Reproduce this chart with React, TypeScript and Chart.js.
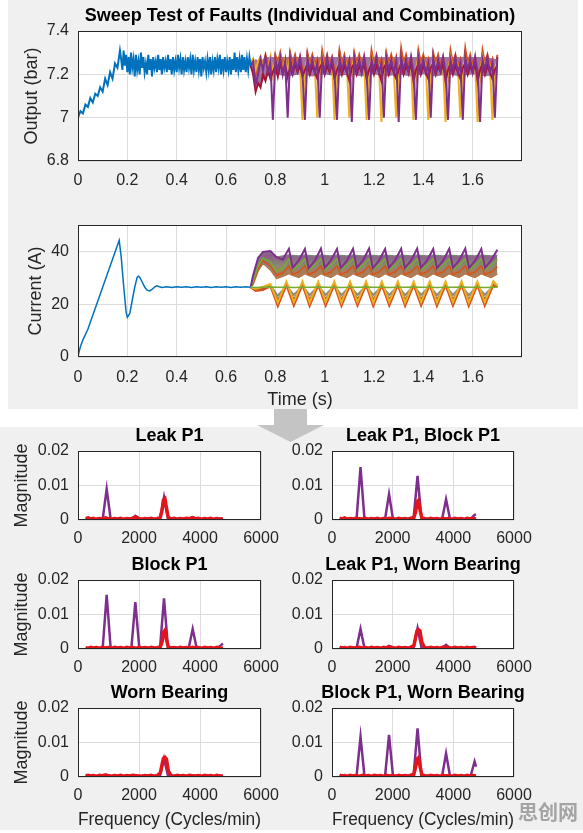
import React, { useEffect, useRef } from "react";
import { Chart, registerables } from "chart.js";

Chart.register(...registerables);

const FONT = '"Liberation Sans", Arial, Helvetica, sans-serif';
const TICK_COLOR = "#262626";
const GRID_COLOR = "#dcdcdc";

const C_BLUE = "#0072BD";
const C_ORANGE = "#D95319";
const C_YELLOW = "#EDB120";
const C_PURPLE = "#7E2F8E";
const C_GREEN = "#77AC30";
const C_DRED = "#A2142F";
const C_RED = "#E3151B";

// ---------- Output (bar) ----------
const T_START = [
  0, 0.01, 0.02, 0.03, 0.04, 0.05, 0.06, 0.07, 0.08, 0.09, 0.1, 0.11, 0.12, 0.13, 0.14, 0.15, 0.16, 0.17,
  0.175, 0.18, 0.185, 0.19, 0.195, 0.2, 0.205, 0.21, 0.215, 0.22, 0.225, 0.23, 0.235, 0.24, 0.245, 0.25, 0.255, 0.26,
  0.265, 0.27, 0.275, 0.28, 0.285, 0.29, 0.295, 0.3, 0.305, 0.31, 0.315, 0.32, 0.325, 0.33, 0.335, 0.34, 0.345, 0.35,
  0.355, 0.36, 0.365, 0.37, 0.375, 0.38, 0.385, 0.39, 0.395, 0.4, 0.405, 0.41, 0.415, 0.42, 0.425, 0.43, 0.435, 0.44,
  0.445, 0.45, 0.455, 0.46, 0.465, 0.47, 0.475, 0.48, 0.485, 0.49, 0.495, 0.5, 0.505, 0.51, 0.515, 0.52, 0.525, 0.53,
  0.535, 0.54, 0.545, 0.55, 0.555, 0.56, 0.565, 0.57, 0.575, 0.58, 0.585, 0.59, 0.595, 0.6, 0.605, 0.61, 0.615, 0.62,
  0.625, 0.63, 0.635, 0.64, 0.645, 0.65, 0.655, 0.66, 0.665, 0.67, 0.675, 0.68, 0.685, 0.69, 0.695, 0.7,
];
const OUT_BLUE = [
  7.0, 7.03, 7.02, 7.06, 7.05, 7.09, 7.07, 7.11, 7.1, 7.14, 7.12, 7.18, 7.15, 7.21, 7.18, 7.25, 7.23, 7.31,
  7.27, 7.22, 7.31, 7.24, 7.29, 7.21, 7.28, 7.2, 7.3, 7.23,
  7.27, 7.19, 7.29, 7.22, 7.26, 7.2, 7.3, 7.23, 7.28, 7.21,
  7.25, 7.2, 7.29, 7.22, 7.27, 7.19, 7.28, 7.23, 7.26, 7.21,
  7.29, 7.22, 7.27, 7.2, 7.28, 7.23, 7.26, 7.21, 7.29, 7.22,
  7.27, 7.2, 7.28, 7.22, 7.26, 7.21, 7.29, 7.23, 7.27, 7.2,
  7.28, 7.22, 7.26, 7.21, 7.28, 7.23, 7.27, 7.2, 7.29, 7.22,
  7.26, 7.21, 7.28, 7.22, 7.27, 7.19, 7.28, 7.23, 7.26, 7.21,
  7.27, 7.22, 7.28, 7.2, 7.26, 7.22, 7.28, 7.21, 7.27, 7.23,
  7.29, 7.2, 7.27, 7.22, 7.28, 7.21, 7.26, 7.22, 7.28, 7.2,
  7.27, 7.22, 7.3, 7.21, 7.28, 7.22, 7.27, 7.21, 7.29, 7.22,
  7.28, 7.21, 7.27, 7.22, 7.28, 7.24,
];
const T_FAULT = [
  0.7, 0.71, 0.72, 0.73, 0.74, 0.75, 0.76, 0.77, 0.78, 0.79, 0.8, 0.81, 0.82, 0.83, 0.84, 0.85, 0.86, 0.87, 0.88, 0.89,
  0.9, 0.91, 0.92, 0.93, 0.94, 0.95, 0.96, 0.97, 0.98, 0.99, 1.0, 1.01, 1.02, 1.03, 1.04, 1.05, 1.06, 1.07, 1.08, 1.09,
  1.1, 1.11, 1.12, 1.13, 1.14, 1.15, 1.16, 1.17, 1.18, 1.19, 1.2, 1.21, 1.22, 1.23, 1.24, 1.25, 1.26, 1.27, 1.28, 1.29,
  1.3, 1.31, 1.32, 1.33, 1.34, 1.35, 1.36, 1.37, 1.38, 1.39, 1.4, 1.41, 1.42, 1.43, 1.44, 1.45, 1.46, 1.47, 1.48, 1.49,
  1.5, 1.51, 1.52, 1.53, 1.54, 1.55, 1.56, 1.57, 1.58, 1.59, 1.6, 1.61, 1.62, 1.63, 1.64, 1.65, 1.66, 1.67, 1.68, 1.69,
  1.7,
];
const OUT_PURPLE = [
  7.24, 7.26, 7.15, 7.2, 7.27, 7.22, 7.28, 7.21, 7.26, 6.99, 7.27, 7.22, 7.28, 7.2, 7.26, 7.0, 7.28, 7.21, 7.27, 7.22,
  7.28, 7.2, 6.99, 7.28, 7.22, 7.27, 7.21, 7.25, 7.0, 7.27, 7.21, 7.28, 7.22, 7.27, 7.2, 6.99, 7.28, 7.22, 7.27, 7.21,
  7.26, 6.98, 7.28, 7.22, 7.27, 7.21, 7.28, 7.2, 6.99, 7.27, 7.22, 7.28, 7.21, 7.25, 7.0, 7.28, 7.22, 7.27, 7.21, 7.26,
  6.98, 7.28, 7.22, 7.27, 7.21, 7.28, 7.2, 6.99, 7.28, 7.22, 7.27, 7.21, 7.25, 7.0, 7.28, 7.21, 7.27, 7.22, 7.28, 7.2,
  6.99, 7.27, 7.22, 7.28, 7.21, 7.25, 6.99, 7.28, 7.22, 7.27, 7.21, 7.28, 7.2, 6.98, 7.27, 7.22, 7.28, 7.21, 7.25, 7.0,
  7.28,
];
const OUT_YELLOW = [
  7.25, 7.27, 7.22, 7.26, 7.28, 7.23, 7.27, 7.22, 7.28, 7.2, 7.27, 7.23, 7.28, 7.22, 7.27, 7.21, 7.28, 7.22, 7.27, 7.23,
  7.24, 6.99, 7.22, 7.28, 7.23, 7.27, 7.24, 7.0, 7.23, 7.28, 7.22, 7.27, 7.23, 7.26, 6.99, 7.22, 7.28, 7.23, 7.27, 7.24,
  7.0, 7.22, 7.28, 7.23, 7.27, 7.22, 7.25, 6.99, 7.21, 7.28, 7.23, 7.27, 7.24, 6.98, 7.22, 7.28, 7.23, 7.27, 7.22, 7.0,
  7.21, 7.28, 7.23, 7.27, 7.22, 7.25, 6.99, 7.22, 7.28, 7.23, 7.27, 7.24, 6.99, 7.22, 7.28, 7.23, 7.27, 7.22, 7.25, 6.98,
  7.21, 7.28, 7.23, 7.27, 7.24, 7.0, 7.22, 7.28, 7.23, 7.27, 7.22, 7.25, 6.98, 7.21, 7.28, 7.23, 7.27, 7.24, 6.99, 7.22,
  7.27,
];
const OUT_ORANGE = [
  7.25, 7.27, 7.2, 7.25, 7.28, 7.24, 7.29, 7.25, 7.27, 7.2, 7.29, 7.25, 7.3, 7.24, 7.27, 7.19, 7.3, 7.25, 7.29, 7.24,
  7.28, 7.22, 7.18, 7.3, 7.25, 7.29, 7.24, 7.27, 7.19, 7.31, 7.25, 7.29, 7.24, 7.28, 7.22, 7.18, 7.31, 7.25, 7.29, 7.24,
  7.27, 7.19, 7.3, 7.25, 7.29, 7.24, 7.28, 7.22, 7.18, 7.31, 7.25, 7.29, 7.24, 7.27, 7.19, 7.3, 7.25, 7.29, 7.24, 7.28,
  7.18, 7.32, 7.25, 7.29, 7.24, 7.28, 7.22, 7.18, 7.31, 7.25, 7.29, 7.24, 7.27, 7.19, 7.3, 7.25, 7.29, 7.24, 7.28, 7.22,
  7.18, 7.31, 7.25, 7.29, 7.24, 7.27, 7.19, 7.32, 7.25, 7.29, 7.24, 7.28, 7.22, 7.18, 7.31, 7.25, 7.29, 7.24, 7.27, 7.19,
  7.29,
];
const OUT_DRED = [
  7.24, 7.2, 7.12, 7.16, 7.14, 7.2, 7.17, 7.22, 7.18, 7.21, 7.24, 7.19, 7.25, 7.21, 7.24, 7.19, 7.23, 7.2, 7.25, 7.21,
  7.24, 7.19, 7.22, 7.25, 7.2, 7.24, 7.21, 7.18, 7.23, 7.25, 7.2, 7.24, 7.21, 7.25, 7.18, 7.22, 7.25, 7.2, 7.24, 7.21,
  7.17, 7.23, 7.25, 7.2, 7.24, 7.21, 7.25, 7.18, 7.22, 7.25, 7.2, 7.24, 7.21, 7.17, 7.23, 7.25, 7.2, 7.24, 7.21, 7.18,
  7.22, 7.25, 7.2, 7.24, 7.21, 7.25, 7.17, 7.22, 7.25, 7.2, 7.24, 7.21, 7.18, 7.23, 7.25, 7.2, 7.24, 7.21, 7.25, 7.17,
  7.22, 7.25, 7.2, 7.24, 7.21, 7.18, 7.23, 7.25, 7.2, 7.24, 7.21, 7.25, 7.17, 7.22, 7.25, 7.2, 7.24, 7.21, 7.18, 7.22,
  7.24,
];
// envelope of the dense bundle of fault traces
const T_ENV = [
  0.7, 0.72, 0.74, 0.76, 0.8, 0.85, 0.9, 0.95, 1.0, 1.05, 1.1, 1.15, 1.2, 1.25, 1.3, 1.35, 1.4, 1.45, 1.5, 1.55, 1.6,
  1.65, 1.7,
];
const ENV_TOP = [
  7.25, 7.27, 7.26, 7.28, 7.28, 7.28, 7.28, 7.28, 7.28, 7.28, 7.28, 7.28, 7.28, 7.28, 7.28, 7.28, 7.28, 7.28, 7.28,
  7.28, 7.28, 7.28, 7.27,
];
const ENV_BOTTOM = [
  7.23, 7.17, 7.15, 7.19, 7.2, 7.19, 7.2, 7.19, 7.2, 7.19, 7.2, 7.19, 7.2, 7.19, 7.2, 7.19, 7.2, 7.19, 7.2, 7.19, 7.2,
  7.19, 7.2,
];

// ---------- Current (A) ----------
const T_CUR = [
  0, 0.005, 0.01, 0.02, 0.04, 0.06, 0.08, 0.1, 0.12, 0.14, 0.16, 0.167, 0.175, 0.185, 0.195, 0.2, 0.21, 0.22, 0.23, 0.24,
  0.245, 0.25, 0.26, 0.27, 0.28, 0.29, 0.3, 0.31, 0.32, 0.33, 0.34, 0.36, 0.38, 0.4, 0.42, 0.44, 0.46, 0.48, 0.5, 0.52,
  0.54, 0.56, 0.58, 0.6, 0.62, 0.64, 0.66, 0.68, 0.7,
];
const CUR_BLUE = [
  0, 2.2, 4.0, 6.5, 10.5, 15.8, 21.1, 26.4, 31.7, 37.0, 42.3, 44.2, 38.0, 27.0, 17.0, 15.0, 16.5, 21.5, 26.5, 30.2,
  30.6, 30.2, 28.5, 26.5, 25.3, 25.0, 25.6, 26.5, 27.0, 26.6, 26.3, 26.6, 26.3, 26.6, 26.4, 26.6, 26.3, 26.6, 26.4, 26.6,
  26.3, 26.6, 26.4, 26.6, 26.3, 26.6, 26.4, 26.6, 26.4,
];
const T_UPPER = [
  0.7, 0.71, 0.73, 0.75, 0.78, 0.805, 0.83, 0.855, 0.87, 0.895, 0.92, 0.935, 0.96, 0.985, 1.0, 1.025, 1.05, 1.065, 1.09,
  1.115, 1.13, 1.155, 1.18, 1.195, 1.22, 1.245, 1.26, 1.285, 1.31, 1.325, 1.35, 1.375, 1.39, 1.415, 1.44, 1.455, 1.48,
  1.505, 1.52, 1.545, 1.57, 1.585, 1.61, 1.635, 1.65, 1.675, 1.7,
];
const UP_PURPLE = [
  26.5, 31.0, 37.5, 39.8, 40.1, 37.8, 36.8, 41.0, 33.8, 36.6, 40.9, 33.6, 36.5, 41.1, 33.8, 36.6, 40.9, 33.7, 36.5, 41.0,
  33.8, 36.6, 41.1, 33.6, 36.5, 40.9, 33.8, 36.6, 41.0, 33.7, 36.5, 41.1, 33.8, 36.6, 40.9, 33.6, 36.5, 41.0, 33.8, 36.6,
  41.1, 33.7, 36.5, 40.9, 33.8, 36.6, 40.6,
];
const UP_TOP = [
  26.5, 29.5, 36.5, 39.3, 39.6, 37.8, 38.3, 38.6, 38.4, 38.3, 38.6, 38.4, 38.3, 38.6, 38.4, 38.3, 38.6, 38.4, 38.3, 38.6,
  38.4, 38.3, 38.6, 38.4, 38.3, 38.6, 38.4, 38.3, 38.6, 38.4, 38.3, 38.6, 38.4, 38.3, 38.6, 38.4, 38.3, 38.6, 38.4, 38.3,
  38.6, 38.4, 38.3, 38.6, 38.4, 38.3, 38.5,
];
const UP_BOTTOM = [
  26.5, 27.5, 32.5, 35.5, 33.0, 29.8, 30.6, 31.6, 30.9, 30.1, 31.6, 30.9, 30.1, 31.6, 30.9, 30.1, 31.6, 30.9, 30.1, 31.6,
  30.9, 30.1, 31.6, 30.9, 30.1, 31.6, 30.9, 30.1, 31.6, 30.9, 30.1, 31.6, 30.9, 30.1, 31.6, 30.9, 30.1, 31.6, 30.9, 30.1,
  31.6, 30.9, 30.1, 31.6, 30.9, 30.1, 31.5,
];
const UP_GREEN = [
  26.5, 28.5, 34.5, 37.5, 36.0, 32.5, 33.5, 37.2, 33.0, 34.6, 37.2, 33.0, 34.6, 37.2, 33.0, 34.6, 37.2, 33.0, 34.6, 37.2,
  33.0, 34.6, 37.2, 33.0, 34.6, 37.2, 33.0, 34.6, 37.2, 33.0, 34.6, 37.2, 33.0, 34.6, 37.2, 33.0, 34.6, 37.2, 33.0, 34.6,
  37.2, 33.0, 34.6, 37.2, 33.0, 34.6, 37.0,
];
const UP_ORANGE = [
  26.5, 28.0, 33.5, 36.5, 34.5, 31.0, 31.8, 34.5, 31.3, 32.2, 34.5, 31.3, 32.2, 34.5, 31.3, 32.2, 34.5, 31.3, 32.2, 34.5,
  31.3, 32.2, 34.5, 31.3, 32.2, 34.5, 31.3, 32.2, 34.5, 31.3, 32.2, 34.5, 31.3, 32.2, 34.5, 31.3, 32.2, 34.5, 31.3, 32.2,
  34.5, 31.3, 32.2, 34.5, 31.3, 32.2, 34.2,
];
const T_LOWER = [
  0.7, 0.72, 0.75, 0.78, 0.81, 0.845, 0.875, 0.91, 0.939, 0.974, 1.004, 1.039, 1.068, 1.103, 1.133, 1.168, 1.197, 1.232,
  1.262, 1.297, 1.326, 1.361, 1.391, 1.426, 1.455, 1.49, 1.52, 1.555, 1.584, 1.619, 1.649, 1.684, 1.7,
];
const LOW_YELLOW = [
  26.4, 25.8, 26.6, 27.6, 20.6, 28.6, 20.8, 28.7, 20.6, 28.6, 20.8, 28.7, 20.6, 28.6, 20.8, 28.7, 20.6, 28.6, 20.8, 28.7,
  20.6, 28.6, 20.8, 28.7, 20.6, 28.6, 20.8, 28.7, 20.6, 28.6, 20.8, 28.7, 27.0,
];
const LOW_ORANGE = [
  26.4, 25.0, 25.4, 26.8, 19.2, 27.2, 19.4, 27.3, 19.3, 27.2, 19.4, 27.3, 19.3, 27.2, 19.4, 27.3, 19.3, 27.2, 19.4, 27.3,
  19.3, 27.2, 19.4, 27.3, 19.3, 27.2, 19.4, 27.3, 19.3, 27.2, 19.4, 27.3, 26.5,
];
const LOW_DRED = [
  26.4, 25.3, 25.8, 27.0, 21.6, 27.0, 21.8, 27.1, 21.7, 27.0, 21.8, 27.1, 21.7, 27.0, 21.8, 27.1, 21.7, 27.0, 21.8, 27.1,
  21.7, 27.0, 21.8, 27.1, 21.7, 27.0, 21.8, 27.1, 21.7, 27.0, 21.8, 27.1, 26.6,
];
const LOW_GRAY = [
  26.4, 25.6, 26.1, 27.1, 23.2, 26.9, 23.5, 27.0, 23.4, 26.9, 23.5, 27.0, 23.4, 26.9, 23.5, 27.0, 23.4, 26.9, 23.5, 27.0,
  23.4, 26.9, 23.5, 27.0, 23.4, 26.9, 23.5, 27.0, 23.4, 26.9, 23.5, 27.0, 26.7,
];
const LOW_GREEN = [
  26.4, 26.3, 26.4, 26.5, 26.4, 26.4, 26.3, 26.4, 26.4, 26.5, 26.4, 26.4, 26.3, 26.4, 26.4, 26.5, 26.4, 26.4, 26.3, 26.4,
  26.4, 26.5, 26.4, 26.4, 26.3, 26.4, 26.4, 26.5, 26.4, 26.4, 26.3, 26.4, 26.4,
];

// ---------- Spectra (Magnitude vs Frequency) ----------
const RED_F = [
  250, 330, 420, 500, 600, 700, 800, 900, 1000, 1100, 1200, 1300, 1400, 1500, 1600, 1700, 1800, 1900, 2000, 2100, 2200,
  2300, 2400, 2500, 2600, 2700, 2760, 2800, 2850, 2900, 2960, 3050, 3150, 3250, 3350, 3450, 3550, 3650, 3750, 3850, 3950,
  4050, 4150, 4250, 4350, 4450, 4550, 4650, 4750,
];
const RED_LEAK = [
  0.0004, 0.0006, 0.0003, 0.0005, 0.0002, 0.0004, 0.0003, 0.0006, 0.0004, 0.0002, 0.0004, 0.0003, 0.0005, 0.0002, 0.0004,
  0.0003, 0.0005, 0.0009, 0.0004, 0.0002, 0.0004, 0.0003, 0.0005, 0.0002, 0.0004, 0.0008, 0.003, 0.0058, 0.0062, 0.0035,
  0.0008, 0.0003, 0.0005, 0.0002, 0.0004, 0.0003, 0.0005, 0.0004, 0.0007, 0.0003, 0.0005, 0.0002, 0.0004, 0.0003, 0.0005,
  0.0002, 0.0004, 0.0003, 0.0002,
];
const RED_LEAK_BLOCK = [
  0.0005, 0.0003, 0.0006, 0.0002, 0.0004, 0.0003, 0.0005, 0.0004, 0.0003, 0.0005, 0.0002, 0.0004, 0.0003, 0.0005, 0.0002,
  0.0004, 0.0003, 0.0005, 0.0004, 0.0002, 0.0005, 0.0003, 0.0004, 0.0002, 0.0005, 0.0007, 0.0025, 0.0052, 0.0057, 0.003,
  0.0007, 0.0004, 0.0002, 0.0005, 0.0003, 0.0004, 0.0002, 0.0005, 0.0003, 0.0004, 0.0002, 0.0005, 0.0003, 0.0004, 0.0002,
  0.0005, 0.0003, 0.0004, 0.0003,
];
const RED_BLOCK = [
  0.0004, 0.0002, 0.0005, 0.0003, 0.0004, 0.0002, 0.0005, 0.0003, 0.0004, 0.0002, 0.0005, 0.0003, 0.0004, 0.0002, 0.0005,
  0.0003, 0.0004, 0.0002, 0.0005, 0.0003, 0.0004, 0.0002, 0.0005, 0.0003, 0.0004, 0.0006, 0.0022, 0.0048, 0.0054, 0.0028,
  0.0006, 0.0003, 0.0004, 0.0002, 0.0005, 0.0003, 0.0004, 0.0002, 0.0005, 0.0003, 0.0004, 0.0002, 0.0005, 0.0003, 0.0004,
  0.0002, 0.0005, 0.0003, 0.0002,
];
const RED_LEAK_WORN = [
  0.0005, 0.0003, 0.0004, 0.0002, 0.0005, 0.0003, 0.0004, 0.0005, 0.0003, 0.0004, 0.0002, 0.0005, 0.0003, 0.0004, 0.0002,
  0.0005, 0.0003, 0.0006, 0.0004, 0.0002, 0.0005, 0.0003, 0.0004, 0.0002, 0.0005, 0.001, 0.0035, 0.0052, 0.0056, 0.0053,
  0.002, 0.0004, 0.0002, 0.0005, 0.0003, 0.0004, 0.0002, 0.0005, 0.0006, 0.0004, 0.0002, 0.0005, 0.0003, 0.0004, 0.0002,
  0.0005, 0.0003, 0.0004, 0.0003,
];
const RED_WORN = [
  0.0004, 0.0005, 0.0003, 0.0004, 0.0002, 0.0005, 0.0003, 0.0006, 0.0004, 0.0002, 0.0004, 0.0003, 0.0005, 0.0002, 0.0004,
  0.0003, 0.0005, 0.0004, 0.0003, 0.0002, 0.0004, 0.0003, 0.0005, 0.0002, 0.0004, 0.0012, 0.0038, 0.0054, 0.0057, 0.0052,
  0.0018, 0.0004, 0.0002, 0.0005, 0.0003, 0.0004, 0.0002, 0.0005, 0.0004, 0.0003, 0.0004, 0.0002, 0.0005, 0.0003, 0.0004,
  0.0002, 0.0005, 0.0003, 0.0002,
];
const RED_BLOCK_WORN = [
  0.0005, 0.0003, 0.0004, 0.0002, 0.0005, 0.0003, 0.0004, 0.0002, 0.0005, 0.0003, 0.0004, 0.0002, 0.0005, 0.0003, 0.0004,
  0.0002, 0.0005, 0.0003, 0.0004, 0.0002, 0.0005, 0.0003, 0.0004, 0.0002, 0.0005, 0.0008, 0.003, 0.0052, 0.0056, 0.0032,
  0.0007, 0.0004, 0.0002, 0.0005, 0.0003, 0.0004, 0.0002, 0.0005, 0.0003, 0.0004, 0.0002, 0.0005, 0.0003, 0.0004, 0.0002,
  0.0005, 0.0003, 0.0004, 0.0003,
];
const PURPLE_F = [250, 810, 940, 1070, 1750, 1880, 2010, 2690, 2820, 2950, 3630, 3760, 3890, 4570, 4700, 4750];
const PUR_LEAK = [
  0.0003, 0.0003, 0.009, 0.0003, 0.0003, 0.0012, 0.0003, 0.0004, 0.0066, 0.0004, 0.0003, 0.0008, 0.0003, 0.0003, 0.0004,
  0.0003,
];
const PUR_LEAK_BLOCK = [
  0.0003, 0.0003, 0.0153, 0.0003, 0.0003, 0.0075, 0.0003, 0.0004, 0.0128, 0.0004, 0.0003, 0.006, 0.0003, 0.0003, 0.0015,
  0.0016,
];
const PUR_BLOCK = [
  0.0003, 0.0003, 0.0157, 0.0003, 0.0003, 0.0136, 0.0003, 0.0004, 0.0147, 0.0004, 0.0003, 0.0058, 0.0003, 0.0003, 0.0012,
  0.0016,
];
const PUR_LEAK_WORN = [
  0.0003, 0.0003, 0.0058, 0.0003, 0.0003, 0.0009, 0.0003, 0.0004, 0.006, 0.0004, 0.0003, 0.0012, 0.0003, 0.0003, 0.0006,
  0.0004,
];
const PUR_WORN = [
  0.0003, 0.0003, 0.0004, 0.0003, 0.0003, 0.0004, 0.0003, 0.0004, 0.0053, 0.0004, 0.0003, 0.0004, 0.0003, 0.0003, 0.0004,
  0.0003,
];
const PUR_BLOCK_WORN = [
  0.0003, 0.0003, 0.0116, 0.0003, 0.0003, 0.0122, 0.0003, 0.0004, 0.0141, 0.0004, 0.0003, 0.0068, 0.0003, 0.0003, 0.0045,
  0.003,
];

const SPECTRA_TITLES = [
  "Leak P1",
  "Leak P1, Block P1",
  "Block P1",
  "Leak P1, Worn Bearing",
  "Worn Bearing",
  "Block P1, Worn Bearing",
];
const SPECTRA_PURPLE = [PUR_LEAK, PUR_LEAK_BLOCK, PUR_BLOCK, PUR_LEAK_WORN, PUR_WORN, PUR_BLOCK_WORN];
const SPECTRA_RED = [RED_LEAK, RED_LEAK_BLOCK, RED_BLOCK, RED_LEAK_WORN, RED_WORN, RED_BLOCK_WORN];

// ---------- helpers ----------
function pts(t: number[], v: number[]) {
  return t.map((x, i) => ({ x, y: v[i] }));
}

function line(t: number[], v: number[], color: string, width: number, extra: any = {}) {
  return {
    data: pts(t, v),
    borderColor: color,
    backgroundColor: color,
    borderWidth: width,
    pointRadius: 0,
    tension: 0,
    fill: false,
    ...extra,
  };
}

const fmt = (v: any) => String(parseFloat(Number(v).toFixed(4)));

const framePlugin = {
  id: "frame",
  beforeDraw(chart: any) {
    const { ctx, chartArea: a } = chart;
    ctx.save();
    ctx.fillStyle = "#ffffff";
    ctx.fillRect(a.left, a.top, a.right - a.left, a.bottom - a.top);
    ctx.restore();
  },
  afterDraw(chart: any) {
    const { ctx, chartArea: a } = chart;
    ctx.save();
    ctx.strokeStyle = "#262626";
    ctx.lineWidth = 1;
    ctx.strokeRect(a.left + 0.5, a.top + 0.5, a.right - a.left - 1, a.bottom - a.top - 1);
    ctx.restore();
  },
};

interface Axis {
  min: number;
  max: number;
  step: number;
  last: number;
}
interface Spec {
  canvas: { l: number; t: number; w: number; h: number };
  plot: { l: number; t: number; r: number; b: number };
  title?: string;
  titleY?: number;
  xLabel?: string;
  xLabelY?: number;
  yLabel?: string;
  yLabelX?: number;
  xTickY: number;
  yTickPad: number;
  x: Axis;
  y: Axis;
  datasets: any[];
}

function buildConfig(s: Spec): any {
  const c = s.canvas;
  const p = s.plot;
  const yWidth = p.l - c.l;
  const rightWidth = c.l + c.w - p.r;
  const xHeight = c.t + c.h - p.b;
  const topSpace = p.t - c.t;
  const titleLH = 18 * 1.2;
  let layoutTop = 0;
  let titleOpts: any = { display: false };
  if (s.title) {
    const padTop = (s.titleY as number) - c.t - titleLH / 2;
    titleOpts = {
      display: true,
      text: s.title,
      fullSize: true,
      color: "#000000",
      font: { family: FONT, size: 18, weight: "bold" },
      padding: { top: padTop, bottom: topSpace - titleLH - padTop },
    };
  } else {
    layoutTop = topSpace;
  }
  const tickFont = { family: FONT, size: 16 };
  const labelFont = { family: FONT, size: 18 };
  return {
    type: "line",
    data: { datasets: s.datasets },
    plugins: [framePlugin],
    options: {
      responsive: false,
      maintainAspectRatio: false,
      animation: false,
      events: [],
      layout: { padding: { left: 0, top: layoutTop, right: 0, bottom: 0 } },
      plugins: {
        legend: { display: false },
        tooltip: { enabled: false },
        title: titleOpts,
      },
      scales: {
        x: {
          type: "linear",
          min: s.x.min,
          max: s.x.max,
          ticks: {
            stepSize: s.x.step,
            padding: s.xTickY - p.b - 9.6,
            font: tickFont,
            color: TICK_COLOR,
            callback: fmt,
            maxRotation: 0,
            autoSkip: false,
          },
          grid: { color: GRID_COLOR, drawTicks: false },
          border: { display: false },
          title: s.xLabel
            ? {
                display: true,
                text: s.xLabel,
                color: TICK_COLOR,
                font: labelFont,
                padding: { top: 0, bottom: Math.max(0, c.t + c.h - (s.xLabelY as number) - 10.8) },
              }
            : { display: false },
          afterBuildTicks: (sc: any) => {
            sc.ticks = sc.ticks.filter((tk: any) => tk.value <= s.x.last + 1e-9);
          },
          afterFit: (sc: any) => {
            sc.height = xHeight;
          },
        },
        y: {
          type: "linear",
          min: s.y.min,
          max: s.y.max,
          ticks: {
            stepSize: s.y.step,
            padding: s.yTickPad,
            font: tickFont,
            color: TICK_COLOR,
            callback: fmt,
            autoSkip: false,
          },
          grid: { color: GRID_COLOR, drawTicks: false },
          border: { display: false },
          title: s.yLabel
            ? {
                display: true,
                text: s.yLabel,
                color: TICK_COLOR,
                font: labelFont,
                padding: { top: Math.max(0, (s.yLabelX as number) - c.l - 10.8), bottom: 0 },
              }
            : { display: false },
          afterBuildTicks: (sc: any) => {
            sc.ticks = sc.ticks.filter((tk: any) => tk.value <= s.y.last + 1e-9);
          },
          afterFit: (sc: any) => {
            sc.width = yWidth;
          },
        },
        // empty right-hand axis that only reserves the space right of the plot box
        yRight: {
          type: "linear",
          position: "right",
          display: true,
          ticks: { display: false },
          grid: { display: false, drawTicks: false },
          border: { display: false },
          afterFit: (sc: any) => {
            sc.width = rightWidth;
          },
        },
      },
    },
  };
}

const bandFill = (ctx: any) => {
  const chart = ctx.chart;
  const area = chart.chartArea;
  const y = chart.scales && chart.scales.y;
  if (!area || !y) return "rgba(140,115,105,0.9)";
  const g = chart.ctx.createLinearGradient(0, y.getPixelForValue(38.6), 0, y.getPixelForValue(30.0));
  g.addColorStop(0, "#8c5a8c");
  g.addColorStop(0.45, "#8a8676");
  g.addColorStop(1, "#b8794c");
  return g;
};

const SPEC_OUTPUT: Spec = {
  canvas: { l: 0, t: 0, w: 600, h: 196 },
  plot: { l: 78, t: 31, r: 522, b: 161 },
  title: "Sweep Test of Faults (Individual and Combination)",
  titleY: 16.5,
  yLabel: "Output (bar)",
  yLabelX: 32.5,
  xTickY: 181,
  yTickPad: 9,
  x: { min: 0, max: 1.8, step: 0.2, last: 1.6 },
  y: { min: 6.8, max: 7.4, step: 0.2, last: 7.4 },
  datasets: [
    line(T_START, OUT_BLUE, C_BLUE, 2),
    line(T_FAULT, OUT_PURPLE, C_PURPLE, 2),
    line(T_FAULT, OUT_DRED, C_DRED, 2),
    line(T_FAULT, OUT_YELLOW, C_YELLOW, 2),
    line(T_FAULT, OUT_ORANGE, C_ORANGE, 2),
    line(T_ENV, ENV_TOP, "rgba(0,0,0,0)", 0, { fill: "+1", backgroundColor: "rgba(125,70,135,0.75)" }),
    line(T_ENV, ENV_BOTTOM, "rgba(0,0,0,0)", 0),
  ],
};

const SPEC_CURRENT: Spec = {
  canvas: { l: 0, t: 196, w: 600, h: 216 },
  plot: { l: 78, t: 225, r: 522, b: 357 },
  xLabel: "Time (s)",
  xLabelY: 400,
  yLabel: "Current (A)",
  yLabelX: 36.5,
  xTickY: 378,
  yTickPad: 9,
  x: { min: 0, max: 1.8, step: 0.2, last: 1.6 },
  y: { min: 0, max: 50, step: 20, last: 40 },
  datasets: [
    line(T_CUR, CUR_BLUE, C_BLUE, 1.5),
    line(T_LOWER, LOW_GREEN, C_GREEN, 1.5),
    line(T_LOWER, LOW_YELLOW, C_YELLOW, 2),
    line(T_LOWER, LOW_ORANGE, C_ORANGE, 2),
    line(T_LOWER, LOW_DRED, "#9a5a3a", 2),
    line(T_LOWER, LOW_GRAY, "#8c8c8c", 2),
    line(T_UPPER, UP_PURPLE, C_PURPLE, 2),
    line(T_UPPER, UP_GREEN, C_GREEN, 1.5),
    line(T_UPPER, UP_ORANGE, C_ORANGE, 1.5),
    line(T_UPPER, UP_TOP, "#7f7f7f", 1.5, { fill: "+1", backgroundColor: bandFill }),
    line(T_UPPER, UP_BOTTOM, "#b0703a", 1.5),
  ],
};

// canvases are sized so that their centre is the plot centre (titles centre on the plot)
const COLS = [
  { cl: 0, cw: 339, pl: 78, pr: 261 },
  { cl: 292, cw: 262, pl: 332, pr: 514 },
];
const ROWS = [
  { ct: 425, ch: 129, pt: 451, pb: 520 },
  { ct: 554, ch: 128, pt: 580, pb: 649 },
  { ct: 682, ch: 151, pt: 708, pb: 777 },
];

const SPEC_SPECTRA: Spec[] = SPECTRA_TITLES.map((title, i) => {
  const col = COLS[i % 2];
  const row = ROWS[Math.floor(i / 2)];
  const isBottom = Math.floor(i / 2) === 2;
  const isLeft = i % 2 === 0;
  return {
    canvas: { l: col.cl, t: row.ct, w: col.cw, h: row.ch },
    plot: { l: col.pl, t: row.pt, r: col.pr, b: row.pb },
    title,
    titleY: row.pt - 14.7,
    xLabel: isBottom ? "Frequency (Cycles/min)" : undefined,
    xLabelY: 820,
    yLabel: isLeft ? "Magnitude" : undefined,
    yLabelX: 22.5,
    xTickY: row.pb + 19,
    yTickPad: 9,
    x: { min: 0, max: 6000, step: 2000, last: 6000 },
    y: { min: 0, max: 0.02, step: 0.01, last: 0.02 },
    datasets: [
      line(RED_F, SPECTRA_RED[i], C_RED, 3.5),
      line(PURPLE_F, SPECTRA_PURPLE[i], C_PURPLE, 2.5),
    ],
  };
});

const ALL_SPECS: Spec[] = [SPEC_OUTPUT, SPEC_CURRENT, ...SPEC_SPECTRA];

function Panel({ spec }: { spec: Spec }) {
  const ref = useRef<HTMLCanvasElement>(null);
  useEffect(() => {
    const chart = new Chart(ref.current as HTMLCanvasElement, buildConfig(spec));
    return () => chart.destroy();
  }, [spec]);
  const c = spec.canvas;
  return (
    <canvas
      ref={ref}
      width={c.w}
      height={c.h}
      style={{ position: "absolute", left: c.l, top: c.t, width: c.w, height: c.h }}
    />
  );
}

export default function App() {
  return (
    <div
      style={{
        position: "absolute",
        left: 0,
        top: 0,
        width: 583,
        height: 833,
        background: "#ffffff",
        overflow: "hidden",
        fontFamily: FONT,
      }}
    >
      <div style={{ position: "absolute", left: 8, top: 0, width: 570, height: 409, background: "#f0f0f0" }} />
      <div style={{ position: "absolute", left: 0, top: 427, width: 583, height: 403, background: "#f0f0f0" }} />
      {ALL_SPECS.map((s, i) => (
        <Panel key={i} spec={s} />
      ))}
      <div
        style={{
          position: "absolute",
          left: 257,
          top: 409,
          width: 67,
          height: 33,
          background: "#c4c4c4",
          clipPath: "polygon(17px 0, 50px 0, 50px 16px, 67px 16px, 33.5px 33px, 0 16px, 17px 16px)",
        }}
      />
      <div
        style={{
          position: "absolute",
          left: 518,
          top: 798,
          fontSize: 20,
          fontWeight: 700,
          lineHeight: "28px",
          color: "rgba(150,150,150,0.85)",
          fontFamily: '"Noto Sans CJK SC", sans-serif',
        }}
      >
        思创网
      </div>
    </div>
  );
}
